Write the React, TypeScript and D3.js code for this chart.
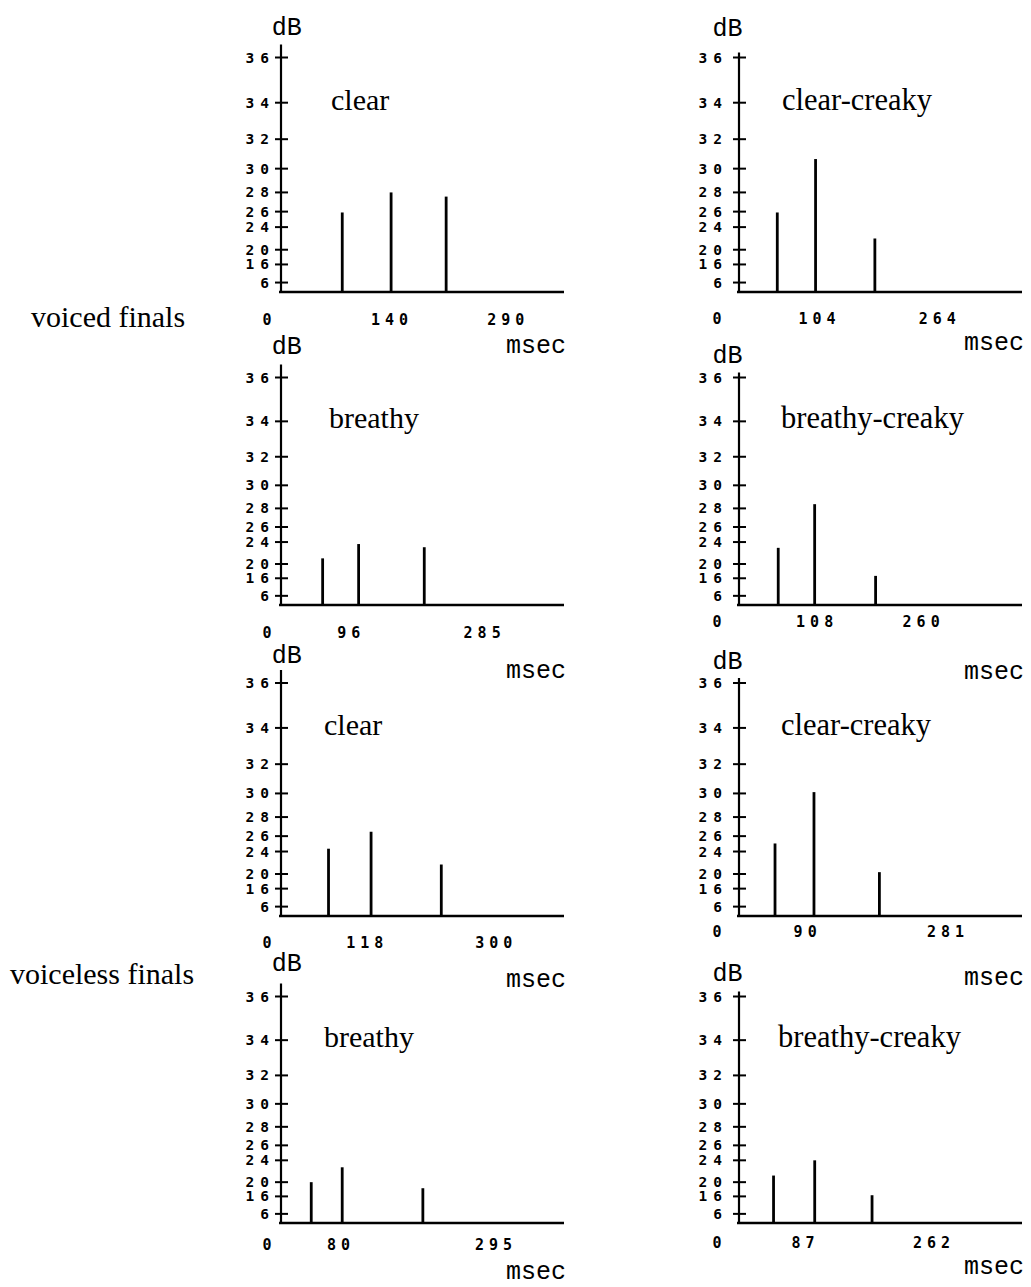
import * as d3 from "d3";

// tick values on the dB axis (not evenly spaced on the page)
const dbTicks = [6, 16, 20, 24, 26, 28, 30, 32, 34, 36];

const groupLabels = ["voiced finals", "voiceless finals"];
const panelTitles = [
  "clear", "clear-creaky",
  "breathy", "breathy-creaky",
  "clear", "clear-creaky",
  "breathy", "breathy-creaky",
];

// msec labels under each time axis
const timeLabels = [
  [0, 140, 290], [0, 104, 264],
  [0, 96, 285], [0, 108, 260],
  [0, 118, 300], [0, 90, 281],
  [0, 80, 295], [0, 87, 262],
];

// msec covered by each time axis
const timeSpans = [365, 377, 401, 404, 399, 385, 393, 385];

// the three peaks of each panel: time (msec) and level (dB)
const peakTimes = [
  [79, 142, 213], [51, 102, 181],
  [59, 110, 203], [56, 108, 195],
  [67, 127, 226], [49, 102, 191],
  [42, 85, 197], [47, 103, 181],
];
const peakDb = [
  [25.9, 28, 27.6], [25.9, 30.7, 22.2],
  [21.2, 23.7, 23.2], [23.1, 28.4, 16.8],
  [24.4, 26.5, 21.9], [25.1, 30.1, 20.4],
  [20, 22.9, 18.5], [21.4, 24, 16.4],
];

// layout
const COL_X = [281, 739];
const AXIS_LEN = 283;
const ROW_BASE = [292, 605, 916, 1223];
const ROW_H = [234.5, 227.5, 233, 226.5];
const LABEL_DY = [33, 32, 33, 22, 32, 21, 27, 25];
const DB_DY = [-23, -22, -24, -15, -20, -14, -26, -16];
const MSEC_DY = [61, 58, 73, 74, 71, 69, 56, 51];
const TITLE_DX = [50, 43, 48, 42, 43, 42, 43, 39];

const amp = (db: number) => Math.pow(10, db / 20);

const Panel = ({ i }: { i: number }) => {
  const col = i % 2;
  const row = Math.floor(i / 2);
  const x0 = COL_X[col];
  const base = ROW_BASE[row];

  const x = d3.scaleLinear().domain([0, timeSpans[i]]).range([x0, x0 + AXIS_LEN]);
  // the dB axis follows the signal amplitude
  const y = d3.scalePow().exponent(0.93).domain([0, amp(36)]).range([base, base - ROW_H[row]]);
  const yDb = (db: number) => y(amp(db));

  const mono = "'DejaVu Sans Mono', monospace";
  const courier = "'Liberation Mono', monospace";

  return (
    <g>
      {/* vertical axis */}
      <line x1={x0} x2={x0} y1={base} y2={yDb(36) - (col ? 5 : 13)} stroke="#000" strokeWidth={2.2} />
      {/* time axis */}
      <line x1={x0 - 2} x2={x0 + AXIS_LEN} y1={base} y2={base} stroke="#000" strokeWidth={2.5} />

      {dbTicks.map((t) => (
        <g key={t}>
          <line x1={x0 - 6} x2={x0 + 7} y1={yDb(t)} y2={yDb(t)} stroke="#000" strokeWidth={2} />
          <text
            x={x0 - (col ? 11 : 6)}
            y={yDb(t) + 5}
            textAnchor="end"
            fontFamily={mono}
            fontWeight="bold"
            fontSize={14.5}
            letterSpacing={6}
          >
            {t}
          </text>
        </g>
      ))}

      {peakTimes[i].map((t, j) => (
        <line
          key={j}
          x1={x(t)}
          x2={x(t)}
          y1={base}
          y2={yDb(peakDb[i][j])}
          stroke="#000"
          strokeWidth={2.8}
        />
      ))}

      {timeLabels[i].map((v, j) => (
        <text
          key={j}
          x={j === 0 ? x0 - (col ? 22 : 14) : x(v)}
          dx={2.5}
          y={base + LABEL_DY[i]}
          textAnchor="middle"
          fontFamily={mono}
          fontWeight="bold"
          fontSize={15}
          letterSpacing={5}
        >
          {v}
        </text>
      ))}

      <text
        x={x0 + TITLE_DX[i]}
        y={yDb(34) + 7}
        fontFamily="'Liberation Serif', serif"
        fontSize={col ? 30.5 : 30}
      >
        {panelTitles[i]}
      </text>

      <text
        x={col ? x0 - 11.5 : x0 + 5.7}
        y={yDb(36) + DB_DY[i]}
        textAnchor="middle"
        fontFamily={courier}
        fontSize={25}
      >
        dB
      </text>
      <text x={x0 + 285} y={base + MSEC_DY[i]} textAnchor="end" fontFamily={courier} fontSize={25}>
        msec
      </text>
    </g>
  );
};

export default function App() {
  return (
    <svg
      width={1031}
      height={1287}
      style={{ position: "absolute", left: 0, top: 0, background: "#fff" }}
    >
      <rect width={1031} height={1287} fill="#fff" />
      <text x={31} y={327} fontFamily="'Liberation Serif', serif" fontSize={30}>
        {groupLabels[0]}
      </text>
      <text x={10} y={984} fontFamily="'Liberation Serif', serif" fontSize={30}>
        {groupLabels[1]}
      </text>
      {panelTitles.map((_, i) => (
        <Panel key={i} i={i} />
      ))}
    </svg>
  );
}
